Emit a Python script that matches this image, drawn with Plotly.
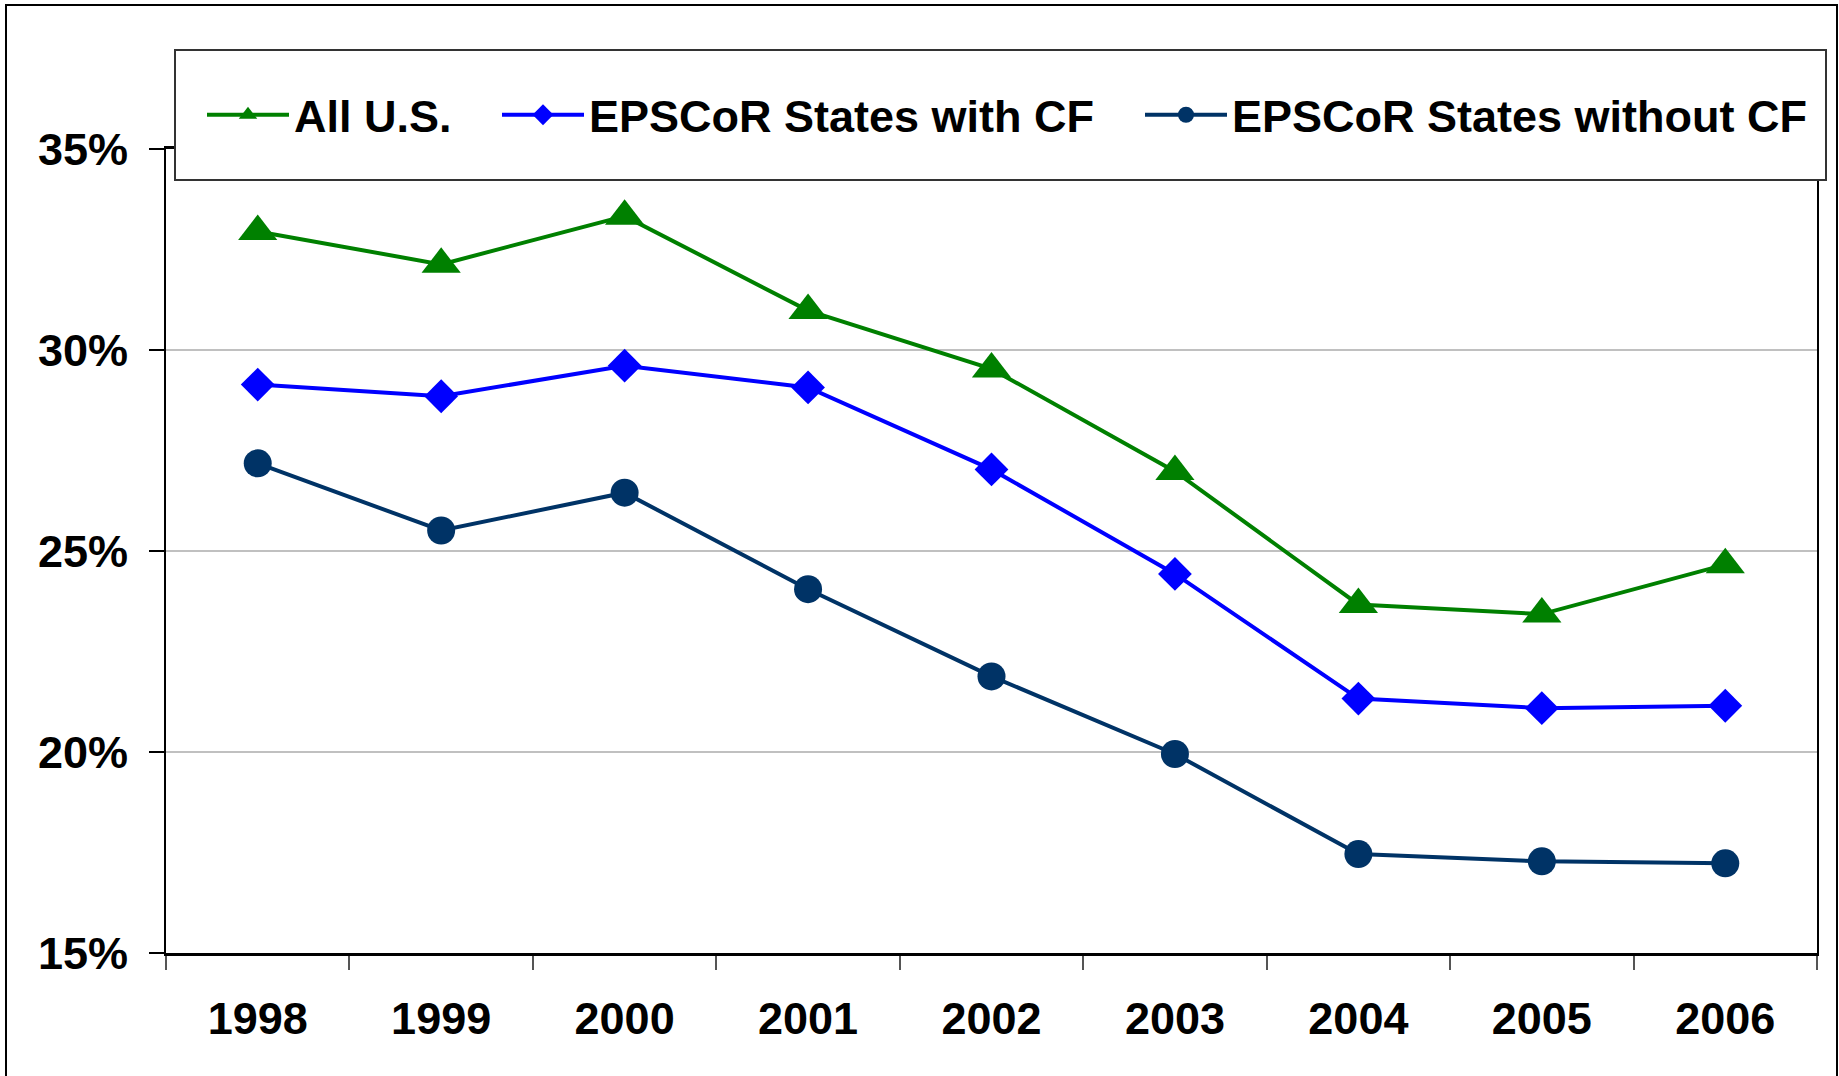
import plotly.graph_objects as go

years = ["1998", "1999", "2000", "2001", "2002", "2003", "2004", "2005", "2006"]
all_us = [32.95, 32.13, 33.33, 30.98, 29.53, 26.98, 23.67, 23.43, 24.66]
with_cf = [29.14, 28.85, 29.61, 29.07, 27.03, 24.43, 21.33, 21.09, 21.15]
without_cf = [27.18, 25.51, 26.45, 24.05, 21.88, 19.95, 17.46, 17.28, 17.23]
y_ticks = [15, 20, 25, 30, 35]
y_tick_text = ["15%", "20%", "25%", "30%", "35%"]

W, H = 1839, 1076
L, R, T, B = 166, 1817, 149, 953
pw, ph = R - L, B - T

def px(x):
    return (x - L) / pw

def py(y):
    return (B - y) / ph

FONT = "Liberation Sans, Arial, sans-serif"

fig = go.Figure()
fig.add_trace(go.Scatter(
    x=years, y=all_us, name="All U.S.", mode="lines+markers",
    line=dict(color="#008000", width=4),
    marker=dict(symbol="triangle-up", size=34, color="#008000"),
    legend="legend"))
fig.add_trace(go.Scatter(
    x=years, y=with_cf, name="EPSCoR States with CF", mode="lines+markers",
    line=dict(color="#0000FF", width=4),
    marker=dict(symbol="diamond", size=26, color="#0000FF"),
    legend="legend2"))
fig.add_trace(go.Scatter(
    x=years, y=without_cf, name="EPSCoR States without CF", mode="lines+markers",
    line=dict(color="#003366", width=4),
    marker=dict(symbol="circle", size=28, color="#003366"),
    legend="legend3"))

legend_font = dict(family=FONT, size=45, color="black", weight="bold")
common_leg = dict(orientation="h", yanchor="middle", xanchor="left",
                  y=py(115), bgcolor="rgba(0,0,0,0)", borderwidth=0,
                  font=legend_font, itemwidth=82)

fig.update_layout(
    width=W, height=H,
    margin=dict(l=L, r=W - R, t=T, b=H - B, pad=0),
    paper_bgcolor="white", plot_bgcolor="white",
    font=dict(family=FONT, size=45, color="black", weight="bold"),
    showlegend=True,
    legend=dict(common_leg, x=px(202)),
    legend2=dict(common_leg, x=px(497)),
    legend3=dict(common_leg, x=px(1140)),
    xaxis=dict(
        type="category", range=[-0.5, 8.5], tickson="boundaries",
        ticks="outside", ticklen=14, tickwidth=1.5, tickcolor="#555555",
        showline=True, linecolor="black", linewidth=2.5, mirror=True,
        showgrid=False, ticklabelstandoff=24,
        tickfont=dict(family=FONT, size=45, color="black", weight="bold"),
    ),
    yaxis=dict(
        range=[15, 35], tickmode="array", tickvals=y_ticks, ticktext=y_tick_text,
        ticks="outside", ticklen=15, tickwidth=1.5, tickcolor="black",
        showline=True, linecolor="black", linewidth=2, mirror=True,
        showgrid=True, gridcolor="#C0C0C0", gridwidth=2, zeroline=False,
        ticklabelstandoff=12,
        tickfont=dict(family=FONT, size=45, color="black", weight="bold"),
    ),
    shapes=[
        # legend box
        dict(type="rect", xref="paper", yref="paper", layer="above",
             x0=px(175), x1=px(1826), y0=py(180), y1=py(50),
             fillcolor="white", line=dict(color="#333333", width=2)),
        # outer chart border
        dict(type="rect", xref="paper", yref="paper", layer="above",
             x0=px(6), x1=px(1837), y0=py(1090), y1=py(5),
             fillcolor="rgba(0,0,0,0)", line=dict(color="black", width=2)),
    ],
)

fig.write_html("out.html", config={"displayModeBar": False},
               post_script="document.body.style.margin='0';document.body.style.overflow='hidden';")
